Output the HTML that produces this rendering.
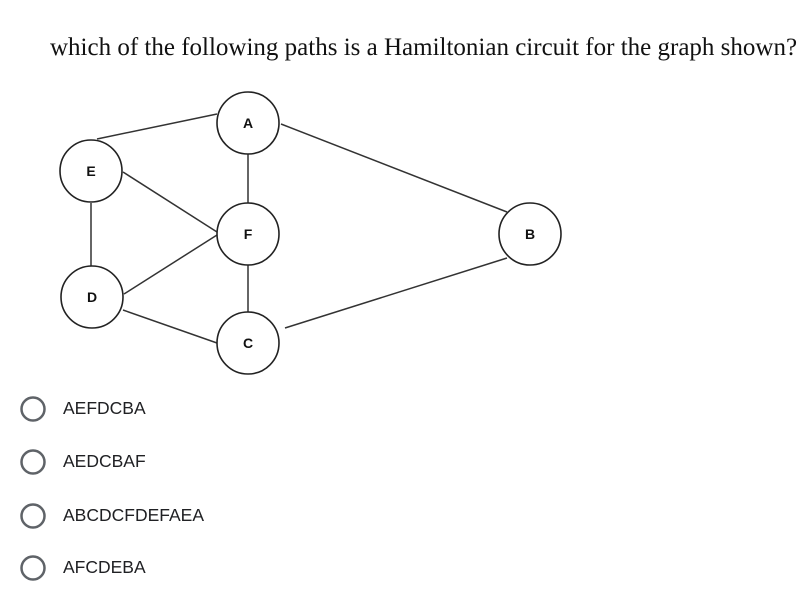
<!DOCTYPE html>
<html><head><style>
body{margin:0;width:806px;height:612px;background:#fff;overflow:hidden;position:relative}
.t{position:absolute;left:50px;top:34px;font-family:"Liberation Serif",serif;font-size:25px;color:#111;white-space:nowrap}
.o{position:absolute;left:63px;font-family:"Liberation Sans",sans-serif;font-size:17.5px;color:#202124}
</style></head><body>
<div class="t">which of the following paths is a Hamiltonian circuit for the graph shown?</div>
<svg width="806" height="612" style="position:absolute;left:0;top:0">
<g stroke="#333" stroke-width="1.5" fill="none">
<line x1="97" y1="139" x2="217" y2="114"/>
<line x1="281" y1="124" x2="507" y2="212"/>
<line x1="248" y1="154" x2="248" y2="203"/>
<line x1="123" y1="172" x2="217" y2="232"/>
<line x1="91" y1="203" x2="91" y2="266"/>
<line x1="124" y1="294" x2="217" y2="235"/>
<line x1="123" y1="310" x2="217" y2="343"/>
<line x1="248" y1="265" x2="248" y2="312"/>
<line x1="285" y1="328" x2="507" y2="258"/>
</g>
<g stroke="#222" stroke-width="1.6" fill="#fff">
<circle cx="248" cy="123" r="31"/><circle cx="91" cy="171" r="31"/>
<circle cx="248" cy="234" r="31"/><circle cx="530" cy="234" r="31"/>
<circle cx="92" cy="297" r="31"/><circle cx="248" cy="343" r="31"/>
</g>
<g font-family="Liberation Sans,sans-serif" font-weight="bold" font-size="14" text-anchor="middle" fill="#111">
<text x="248" y="128">A</text><text x="91" y="176">E</text><text x="248" y="239">F</text>
<text x="530" y="239">B</text><text x="92" y="302">D</text><text x="248" y="348">C</text>
</g>
<g stroke="#5f6368" stroke-width="2.5" fill="none">
<circle cx="33" cy="409" r="11.5"/><circle cx="33" cy="462" r="11.5"/>
<circle cx="33" cy="516" r="11.5"/><circle cx="33" cy="568" r="11.5"/>
</g>
</svg>
<div class="o" style="top:398px">AEFDCBA</div>
<div class="o" style="top:451px">AEDCBAF</div>
<div class="o" style="top:505px">ABCDCFDEFAEA</div>
<div class="o" style="top:557px">AFCDEBA</div>
</body></html>
